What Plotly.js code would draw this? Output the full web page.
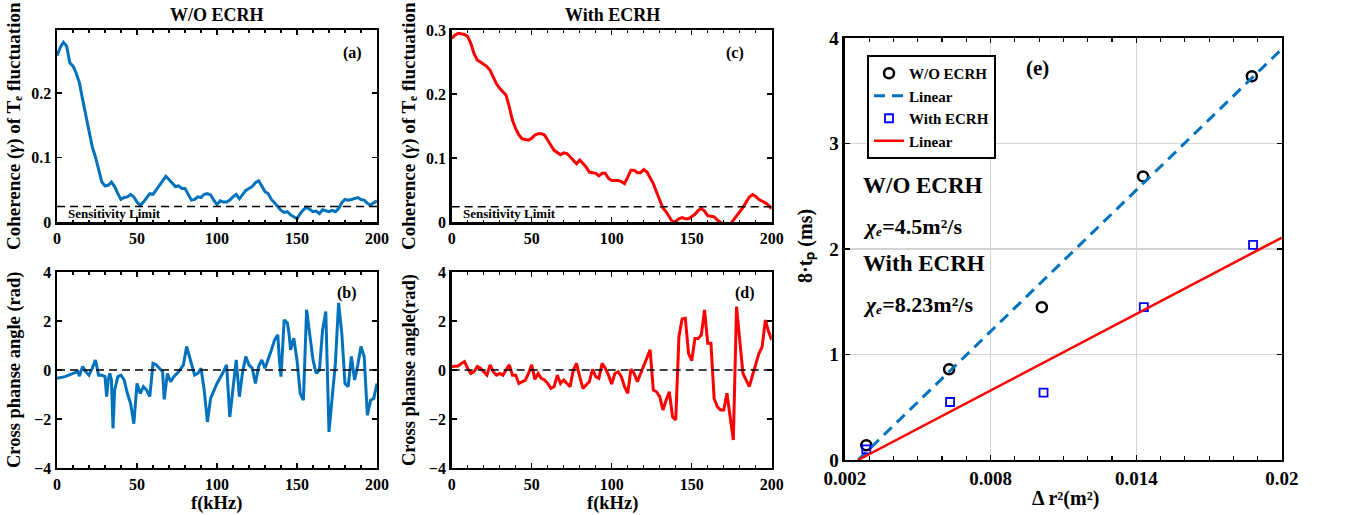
<!DOCTYPE html>
<html><head><meta charset="utf-8">
<script src="https://cdn.plot.ly/plotly-3.0.1.min.js"></script>
<style>html,body{margin:0;padding:0;background:#fff}#chart{width:1358px;height:515px}</style>
</head><body><div id="chart"></div><script>
// ---------- DATA ----------
const freq = [0,2,4,6,8,10,12,14,16,18,20,22,24,26,28,30,32,34,36,38,40,42,44,46,48,50,52,54,56,58,60,62,64,66,68,70,72,74,76,78,80,82,84,86,88,90,92,94,96,98,100,102,104,106,108,110,112,114,116,118,120,122,124,126,128,130,132,134,136,138,140,142,144,146,148,150,152,154,156,158,160,162,164,166,168,170,172,174,176,178,180,182,184,186,188,190,192,194,196,198,200];
const cohWo = [0.258,0.271,0.279,0.273,0.247,0.242,0.231,0.216,0.190,0.164,
  0.138,0.117,0.101,0.083,0.062,0.056,0.057,0.062,0.055,0.044,
  0.035,0.038,0.039,0.043,0.039,0.031,0.026,0.031,0.038,0.044,
  0.043,0.050,0.057,0.065,0.071,0.066,0.060,0.055,0.056,0.052,
  0.052,0.042,0.034,0.035,0.039,0.038,0.043,0.044,0.042,0.034,
  0.027,0.033,0.031,0.031,0.034,0.039,0.043,0.036,0.043,0.049,
  0.052,0.055,0.061,0.064,0.056,0.047,0.044,0.035,0.030,0.023,
  0.018,0.015,0.016,0.011,0.008,0.005,0.013,0.019,0.023,0.019,
  0.016,0.017,0.013,0.019,0.017,0.016,0.018,0.016,0.021,0.030,
  0.035,0.034,0.035,0.036,0.038,0.035,0.034,0.029,0.026,0.030,
  0.033];
const cohWith = [0.287,0.292,0.295,0.294,0.293,0.290,0.279,0.263,0.253,0.250,
  0.246,0.243,0.237,0.227,0.216,0.209,0.204,0.198,0.180,0.159,
  0.146,0.136,0.130,0.129,0.128,0.131,0.136,0.138,0.138,0.136,
  0.129,0.120,0.112,0.108,0.105,0.108,0.107,0.102,0.097,0.091,
  0.097,0.091,0.086,0.078,0.077,0.076,0.072,0.076,0.076,0.068,
  0.065,0.065,0.065,0.063,0.060,0.070,0.081,0.081,0.077,0.077,
  0.082,0.078,0.068,0.060,0.047,0.034,0.022,0.016,0.009,0.000,
  0.001,0.005,0.007,0.005,0.005,0.008,0.012,0.018,0.021,0.017,
  0.010,0.009,0.008,0.003,0.000,-0.004,-0.005,-0.004,0.003,0.009,
  0.016,0.023,0.031,0.039,0.043,0.040,0.035,0.033,0.030,0.026,
  0.021];
const sensLimitX = [0, 200];
const sensLimitY = [0.024, 0.024];
const zeroLineY = [0, 0];

const phaseFreqWo = [0,5,10,13,14,16,18,20,22,24,26,28,30,31,32,33,34,35,36,38,40,42,44,46,48,50,52,54,56,58,60,62,64,66,67,69,71,73,76,79,81,83,85,86,88,90,92,94,96,100,104,106,108,110,112,114,116,118,120,122,124,126,128,130,132,134,136,138,139,140,142,144,145,146,148,150,152,154,156,158,160,162,164,166,168,170,172,174,176,178,180,182,184,186,188,190,192,194,196,198,200];
const phaseWo = [-0.34,-0.27,-0.14,-0.07,-0.25,0.14,-0.07,-0.21,0.07,0.41,
  -0.21,-0.21,-0.27,-1.09,-0.41,-0.14,-0.41,-2.39,-0.82,-0.27,
  -0.21,-0.41,-0.96,-1.37,-2.19,-0.55,-0.96,-0.68,-0.82,-1.09,
  0.27,0.21,0.07,-0.07,-1.20,-0.14,-0.48,-0.27,-0.07,0.21,
  0.96,0.48,0,-0.21,-0.14,0.07,-0.82,-2.12,-1.16,-0.55,
  -0.07,0.21,-1.92,-0.82,0.41,-1.09,-0.07,0.55,0.21,0.07,
  -0.55,0.14,0.41,0.07,0.41,0.82,1.23,1.44,0.41,-0.27,
  2.05,1.92,1.50,0.82,1.30,0.41,-0.96,-1.23,2.46,1.50,
  0.41,-0.14,0,1.64,2.39,-2.53,-0.96,0.27,2.74,1.50,
  -0.55,-0.68,0.55,-0.41,0.21,0.96,0.55,-1.85,-1.23,-1.16,
  -0.55];
const phaseWith = [0.14,0.16,0.16,0.27,0.34,0.07,-0.14,-0.07,0.14,0.07,
  -0.07,-0.21,0.21,-0.07,-0.21,-0.14,-0.21,0,0.21,-0.21,
  -0.21,-0.55,-0.48,-0.41,-0.14,0.21,-0.38,-0.14,-0.34,-0.41,
  -0.55,-0.75,-0.68,-0.21,-0.55,-0.41,-0.55,-0.68,0,0.27,
  -0.27,-0.75,-0.61,-0.48,0.03,-0.27,-0.34,0.27,0.07,-0.21,
  -0.57,-0.14,-0.07,-0.27,-0.68,-0.95,0.03,-0.14,-0.48,-0.14,
  0.21,0.55,0.82,-0.82,-0.89,-1.09,-1.63,-1.23,-0.89,-1.91,
  -2.04,1.36,2.08,2.11,0.68,0.38,1.29,1.29,1.43,2.45,
  1.09,1.09,-1.16,-1.50,-1.63,-1.63,-0.95,-1.91,-2.86,2.59,
  1.09,-0.14,-0.41,-0.68,-0.21,0.21,0.68,0.95,2.04,1.57,
  1.23];

const dr2Wo = [0.00288, 0.00629, 0.01011, 0.01428, 0.01876];
const tpWo = [0.14, 0.86, 1.45, 2.69, 3.64];
const dr2With = [0.00288, 0.00633, 0.01018, 0.01431, 0.01881];
const tpWith = [0.10, 0.55, 0.64, 1.45, 2.04];
const fitWoX = [0.00254, 0.02];
const fitWoY = [0, 3.90];
const fitWithX = [0.00254, 0.02];
const fitWithY = [0, 2.11];

const fTicks = [0, 50, 100, 150, 200];
const eXTicks = [0.002, 0.008, 0.014, 0.02];
const eXTickText = ['0.002', '0.008', '0.014', '0.02'];

// ---------- STYLE ----------
const FF = '"Liberation Serif", "Times New Roman", serif';
const BLUE = '#0072BD', RED = '#FF0000';

function ax(extra) {
  return Object.assign({
    showline: true, linewidth: 2.5, linecolor: '#000', mirror: 'ticks',
    ticks: 'inside', ticklen: 5, tickwidth: 1.5, tickcolor: '#000',
    zeroline: false, showgrid: false, fixedrange: true,
    tickfont: {family: FF, size: 16, color: '#000', weight: 'bold'}
  }, extra);
}
const fMinor = {ticks: 'inside', dtick: 10, tick0: 0, ticklen: 2.5, tickwidth: 1.2, tickcolor: '#000', showgrid: false};

const traces = [
  {x: freq, y: cohWo, xaxis: 'x', yaxis: 'y', mode: 'lines', line: {color: BLUE, width: 3}, showlegend: false},
  {x: sensLimitX, y: sensLimitY, xaxis: 'x', yaxis: 'y', mode: 'lines', line: {color: '#000', width: 1.5, dash: '8px,5px'}, showlegend: false},
  {x: phaseFreqWo, y: phaseWo, xaxis: 'x2', yaxis: 'y2', mode: 'lines', line: {color: BLUE, width: 3}, showlegend: false},
  {x: sensLimitX, y: zeroLineY, xaxis: 'x2', yaxis: 'y2', mode: 'lines', line: {color: '#000', width: 1.5, dash: '8px,5px'}, showlegend: false},
  {x: freq, y: cohWith, xaxis: 'x3', yaxis: 'y3', mode: 'lines', line: {color: RED, width: 3}, showlegend: false},
  {x: sensLimitX, y: sensLimitY, xaxis: 'x3', yaxis: 'y3', mode: 'lines', line: {color: '#000', width: 1.5, dash: '8px,5px'}, showlegend: false},
  {x: freq, y: phaseWith, xaxis: 'x4', yaxis: 'y4', mode: 'lines', line: {color: RED, width: 3}, showlegend: false},
  {x: sensLimitX, y: zeroLineY, xaxis: 'x4', yaxis: 'y4', mode: 'lines', line: {color: '#000', width: 1.5, dash: '8px,5px'}, showlegend: false},
  {x: dr2Wo, y: tpWo, xaxis: 'x5', yaxis: 'y5', mode: 'markers', name: 'W/O ECRH',
   marker: {symbol: 'circle-open', size: 10, color: '#000', line: {width: 2.5, color: '#000'}}},
  {x: fitWoX, y: fitWoY, xaxis: 'x5', yaxis: 'y5', mode: 'lines', name: 'Linear',
   line: {color: BLUE, width: 3, dash: '11px,7px'}},
  {x: dr2With, y: tpWith, xaxis: 'x5', yaxis: 'y5', mode: 'markers', name: 'With ECRH',
   marker: {symbol: 'square-open', size: 8, color: '#0000FF', line: {width: 1.8, color: '#0000FF'}}},
  {x: fitWithX, y: fitWithY, xaxis: 'x5', yaxis: 'y5', mode: 'lines', name: 'Linear',
   line: {color: RED, width: 2.5}}
];

const dxA = [0.0420, 0.2776], dxC = [0.3326, 0.5683];
const dyTop = [0.5689, 0.9417], dyBot = [0.0913, 0.4718];

function ann(text, x, y, size, extra) {
  return Object.assign({text: text, x: x, y: y, xref: 'paper', yref: 'paper', showarrow: false,
    xanchor: 'center', yanchor: 'middle', font: {family: FF, size: size, color: '#000', weight: 'bold'}}, extra || {});
}
const W = 1358, H = 515;
const px = v => v / W, py = v => 1 - v / H;
const bigTick = {family: FF, size: 19, color: '#000', weight: 'bold'};

const layout = {
  width: W, height: H, autosize: false,
  margin: {l: 0, r: 0, t: 0, b: 0},
  paper_bgcolor: '#fff', plot_bgcolor: '#fff',
  font: {family: FF, color: '#000'},
  xaxis: ax({domain: dxA, anchor: 'y', range: [0, 200], tickvals: fTicks, minor: fMinor}),
  yaxis: ax({domain: dyTop, anchor: 'x', range: [0, 0.298], tickvals: [0, 0.1, 0.2], ticktext: ['0', '0.1', '0.2']}),
  xaxis2: ax({domain: dxA, anchor: 'y2', range: [0, 200], tickvals: fTicks, minor: fMinor}),
  yaxis2: ax({domain: dyBot, anchor: 'x2', range: [-4, 4], tickvals: [-4, -2, 0, 2, 4]}),
  xaxis3: ax({domain: dxC, anchor: 'y3', range: [0, 200], tickvals: fTicks, minor: fMinor}),
  yaxis3: ax({domain: dyTop, anchor: 'x3', range: [0, 0.3], tickvals: [0, 0.1, 0.2, 0.3], ticktext: ['0', '0.1', '0.2', '0.3']}),
  xaxis4: ax({domain: dxC, anchor: 'y4', range: [0, 200], tickvals: fTicks, minor: fMinor}),
  yaxis4: ax({domain: dyBot, anchor: 'x4', range: [-4, 4], tickvals: [-4, -2, 0, 2, 4]}),
  xaxis5: ax({domain: [0.6222, 0.9440], anchor: 'y5', range: [0.002, 0.02], tickvals: eXTicks, ticktext: eXTickText,
    showgrid: true, gridcolor: '#d4d4d4', gridwidth: 1.5, tickfont: bigTick,
    minor: {ticks: 'inside', dtick: 0.001, tick0: 0.002, ticklen: 4, tickwidth: 1.2, tickcolor: '#000', showgrid: false}}),
  yaxis5: ax({domain: [0.1068, 0.9256], anchor: 'x5', range: [0, 4], tickvals: [0, 1, 2, 3, 4],
    showgrid: true, gridcolor: '#d4d4d4', gridwidth: 1.5, tickfont: bigTick}),
  showlegend: true,
  legend: {x: px(867), y: py(55), xanchor: 'left', yanchor: 'top', bgcolor: '#fff', bordercolor: '#000', borderwidth: 2,
    font: {family: FF, size: 15, color: '#000', weight: 'bold'}, itemwidth: 30, tracegroupgap: 0},
  annotations: [
    ann('W/O ECRH', px(217), py(15), 18),
    ann('With ECRH', px(612), py(15), 18),
    ann('(a)', px(352), py(53), 16),
    ann('(b)', px(347), py(293), 16),
    ann('(c)', px(735), py(53), 16),
    ann('(d)', px(745), py(293), 16),
    ann('Sensitivity Limit', px(66), py(213), 13, {xanchor: 'left'}),
    ann('Sensitivity Limit', px(461), py(213), 13, {xanchor: 'left'}),
    ann('f(kHz)', px(217), py(503), 18.5),
    ann('f(kHz)', px(612), py(503), 18.5),
    ann('Coherence (<i>γ</i>) of Tₑ fluctuation', px(14), py(126), 19, {textangle: -90}),
    ann('Cross phanse angle (rad)', px(14), py(370), 18.5, {textangle: -90}),
    ann('Coherence (<i>γ</i>) of Tₑ fluctuation', px(409), py(126), 19, {textangle: -90}),
    ann('Cross phanse angle(rad)', px(409), py(370), 18.5, {textangle: -90}),
    ann('(e)', px(1037), py(68), 21),
    ann('W/O ECRH', px(861), py(186), 23, {xanchor: 'left'}),
    ann('<i>χₑ</i>=4.5m²/s', px(861), py(226), 22, {xanchor: 'left'}),
    ann('With ECRH', px(861), py(263), 23, {xanchor: 'left'}),
    ann('<i>χₑ</i>=8.23m²/s', px(861), py(304), 22, {xanchor: 'left'}),
    ann('8·tₚ (ms)', px(806), py(246), 20, {textangle: -90}),
    ann('Δ r²(m²)', px(1065), py(498), 20)
  ]
};

Plotly.newPlot('chart', traces, layout, {displayModeBar: false, staticPlot: true});
</script></body></html>
